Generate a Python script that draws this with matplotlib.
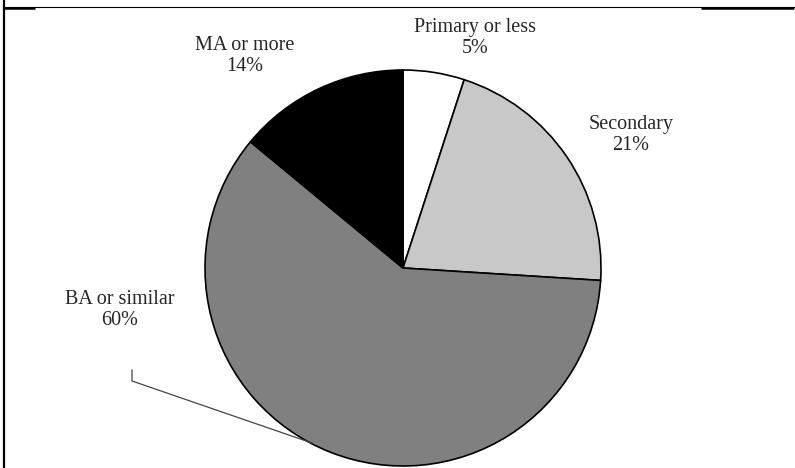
import matplotlib
matplotlib.use("Agg")

import matplotlib.pyplot as plt

# --- data ---
categories = ["Primary or less", "Secondary", "BA or similar", "MA or more"]
shares = [5, 21, 60, 14]
colors = ["#FFFFFF", "#C8C8C8", "#808080", "#000000"]

W, H = 795, 468
plt.rcParams["font.family"] = ["Liberation Serif", "DejaVu Serif"]

fig = plt.figure(figsize=(W / 100, H / 100), dpi=100)
ax = fig.add_axes([0, 0, 1, 1])

# pie in pixel-like coords (y flipped, so counterclock=True goes clockwise on screen)
cx, cy, r = 403, 268, 198
wedges, _ = ax.pie(
    shares, colors=colors, startangle=-90, counterclock=True,
    center=(cx, cy), radius=r, frame=True,
    wedgeprops={"edgecolor": "black", "linewidth": 1.2},
)
ax.set_xlim(0, W)
ax.set_ylim(H, 0)
ax.set_aspect("equal")
ax.axis("off")

# labels (same order as categories)
lbl_pos = [(475, 38), (631, 135), (120, 310), (245, 56)]
for name, val, (x, y) in zip(categories, shares, lbl_pos):
    ax.text(x, y, f"{name}\n{val}%", ha="center", va="center",
            fontsize=14.5, color="#262626", linespacing=1.15)

# leader line for BA
ax.plot([132, 132, 312], [370, 381, 443], color="#444444", lw=0.9)

# frame remnants
ax.plot([3.5, 3.5], [0, H], color="black", lw=1.6, solid_capstyle="butt")
ax.plot([3.5, W], [7, 7], color="black", lw=0.8)
ax.plot([3.5, 35], [7.5, 7.5], color="black", lw=1.8, solid_capstyle="butt")
ax.plot([701, 794], [7.5, 7.5], color="black", lw=1.8, solid_capstyle="butt")

fig.savefig("out.png", dpi=100)
